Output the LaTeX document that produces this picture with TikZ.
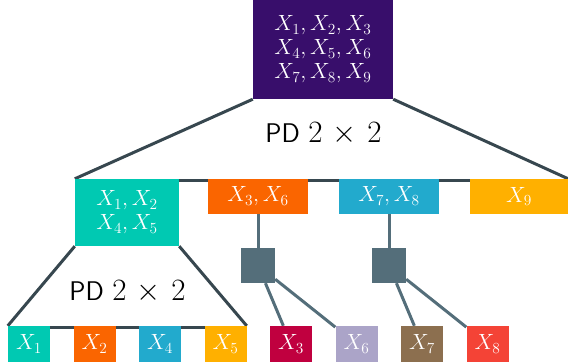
\RequirePackage{fix-cm}
\documentclass[tikz,border=0pt]{standalone}
\usepackage{xcolor}
\usepackage{tikz}
\usetikzlibrary{backgrounds}
\definecolor{mpurple}{HTML}{380E6B}
\definecolor{mteal}{HTML}{00C9B2}
\definecolor{morange}{HTML}{FA6500}
\definecolor{mcyan}{HTML}{22AACD}
\definecolor{myellow}{HTML}{FFB000}
\definecolor{mcrimson}{HTML}{C0003F}
\definecolor{mlavender}{HTML}{ABA4C8}
\definecolor{mbrown}{HTML}{8C6F4F}
\definecolor{mred}{HTML}{F44336}
\definecolor{darkslate}{HTML}{37474F}
\definecolor{slate}{HTML}{546E7A}
\newcommand{\pdlabel}{PD {\fontsize{31}{34}\selectfont\medmuskip=6mu$2\times2$}}

\begin{document}
\begin{tikzpicture}[x=1pt,y=-1pt,
  box/.style={fill=#1,text=white,inner sep=0pt,align=center,font=\fontsize{22}{24}\selectfont},
  leaf/.style={box=#1,minimum width=42pt,minimum height=36pt},
  mid/.style={box=#1,minimum width=100pt,minimum height=35pt},
  joint/.style={fill=slate,inner sep=0pt,minimum width=34pt,minimum height=35pt},
  trunk/.style={line width=3pt,draw=darkslate},
  twig/.style={line width=3pt,draw=slate},
  pd/.style={font=\fontsize{27}{30}\selectfont\sffamily}]
\useasboundingbox (0,0) rectangle (568,364);

\node[box=mpurple,minimum width=140pt,minimum height=99pt] (root) at (323,49.5)
  {$X_1,X_2,X_3$\\$X_4,X_5,X_6$\\$X_7,X_8,X_9$};
\node[pd] (pdtop) at (323.5,134) {\pdlabel};

\node[box=mteal,minimum width=104pt,minimum height=67pt] (x1245) at (127,212.5)
  {$X_1,X_2$\\$X_4,X_5$};
\node[mid=morange] (x36) at (258,196.5) {$X_3,X_6$};
\node[mid=mcyan] (x78) at (389,196.5) {$X_7,X_8$};
\node[mid=myellow,minimum width=98pt] (x9) at (519,196.5) {$X_9$};

\node[joint] (j36) at (258,265.5) {};
\node[joint] (j78) at (389,265.5) {};
\node[pd] (pdlow) at (127.5,292) {\pdlabel};

\node[leaf=mteal] (l1) at (29,344) {$X_1$};
\node[leaf=morange] (l2) at (94.5,344) {$X_2$};
\node[leaf=mcyan] (l4) at (160,344) {$X_4$};
\node[leaf=myellow] (l5) at (225.5,344) {$X_5$};
\node[leaf=mcrimson] (l3) at (291,344) {$X_3$};
\node[leaf=mlavender] (l6) at (356.5,344) {$X_6$};
\node[leaf=mbrown] (l7) at (422,344) {$X_7$};
\node[leaf=mred] (l8) at (487.5,344) {$X_8$};

\begin{scope}[on background layer]
% top split
\draw[trunk] (root.south west) -- (x1245.north west);
\draw[trunk] (root.south east) -- (x9.north east);
\draw[trunk] ([yshift=-2pt]x1245.north) -- ([yshift=-2pt]x9.north);
% lower split
\draw[trunk] (x1245.south west) -- (l1.north west);
\draw[trunk] (x1245.south east) -- (l5.north east);
\draw[trunk] ([yshift=-2pt]l1.north) -- ([yshift=-2pt]l5.north);
% joints
\draw[twig] (x36) -- (j36);
\draw[twig] (j36) -- (l3);
\draw[twig] (j36) -- (l6);
\draw[twig] (x78) -- (j78);
\draw[twig] (j78) -- (l7);
\draw[twig] (j78) -- (l8);
\end{scope}
\end{tikzpicture}
\end{document}
